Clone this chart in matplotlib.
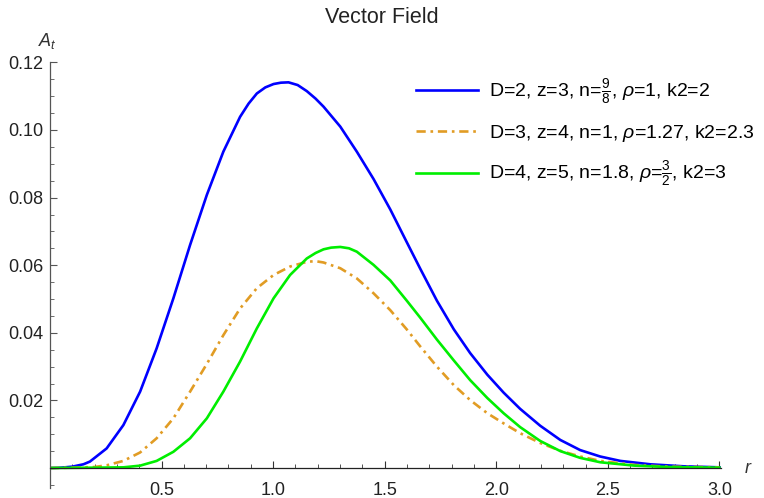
import numpy as np
import matplotlib
matplotlib.use("Agg")
import matplotlib.pyplot as plt
from matplotlib.ticker import MultipleLocator, FixedLocator

plt.rcParams['font.family'] = ['Liberation Sans', 'DejaVu Sans']
plt.rcParams['mathtext.fontset'] = 'custom'
plt.rcParams['mathtext.rm'] = 'Liberation Sans'
plt.rcParams['mathtext.it'] = 'Liberation Sans:italic'

# values
r_blue = [0, 0.05, 0.1, 0.15, 0.179, 0.254, 0.329, 0.404, 0.478, 0.553, 0.628, 0.703,
          0.777, 0.852, 0.89, 0.927, 0.965, 1.002, 1.035, 1.069, 1.11, 1.151, 1.19,
          1.226, 1.301, 1.375, 1.45, 1.525, 1.599, 1.659, 1.734, 1.81, 1.883, 1.96,
          2.033, 2.107, 2.197, 2.287, 2.376, 2.466, 2.556, 2.69, 2.84, 3.0]
a_blue = [0, 0.0001, 0.0004, 0.0011, 0.0019, 0.0058, 0.0127, 0.0226, 0.0354, 0.0502,
          0.066, 0.0808, 0.0936, 0.1039, 0.1078, 0.1108, 0.1126, 0.1136, 0.1140, 0.1141,
          0.1133, 0.1115, 0.1093, 0.1069, 0.101, 0.0936, 0.0855, 0.0765, 0.0668, 0.059,
          0.0495, 0.041, 0.034, 0.0276, 0.0223, 0.0175, 0.0125, 0.0083, 0.0053, 0.0034,
          0.0021, 0.0011, 0.0005, 0.0002]

r_orange = [0, 0.1, 0.2, 0.254, 0.329, 0.404, 0.478, 0.553, 0.628, 0.703, 0.777, 0.852,
            0.927, 1.002, 1.076, 1.151, 1.19, 1.226, 1.301, 1.375, 1.45, 1.525, 1.599,
            1.659, 1.734, 1.81, 1.883, 1.96, 2.033, 2.107, 2.197, 2.287, 2.376, 2.466,
            2.62, 2.77, 3.0]
a_orange = [0, 0.0001, 0.0003, 0.0008, 0.0021, 0.0046, 0.0088, 0.0147, 0.0226, 0.0308,
            0.0393, 0.0472, 0.0532, 0.0571, 0.0596, 0.061, 0.0612, 0.0608, 0.0591,
            0.0561, 0.0517, 0.0467, 0.041, 0.036, 0.030, 0.0245, 0.0201, 0.0162,
            0.0132, 0.0103, 0.0074, 0.0051, 0.0034, 0.0021, 0.0009, 0.0004, 0.0002]

r_green = [0, 0.2, 0.329, 0.404, 0.478, 0.553, 0.628, 0.703, 0.777, 0.852, 0.927, 1.002,
           1.076, 1.151, 1.19, 1.226, 1.26, 1.301, 1.34, 1.375, 1.45, 1.525, 1.599,
           1.659, 1.734, 1.81, 1.883, 1.96, 2.033, 2.107, 2.197, 2.287, 2.376, 2.466,
           2.62, 2.77, 3.0]
a_green = [0, 0.0001, 0.0002, 0.0007, 0.0021, 0.0048, 0.0088, 0.0147, 0.0226, 0.0315,
           0.0413, 0.0502, 0.0571, 0.062, 0.0636, 0.0647, 0.0652, 0.0654, 0.0650,
           0.0640, 0.0601, 0.0555, 0.0495, 0.0445, 0.038, 0.0318, 0.026, 0.0207,
           0.0162, 0.0121, 0.008, 0.005, 0.003, 0.0017, 0.0007, 0.0003, 0.0001]

labels = [r'D=2, z=3, n=$\frac{9}{8}$, $\rho$=1, k2=2',
          r'D=3, z=4, n=1, $\rho$=1.27, k2=2.3',
          r'D=4, z=5, n=1.8, $\rho$=$\frac{3}{2}$, k2=3']

fig = plt.figure(figsize=(7.64, 4.98), dpi=100)
ax = fig.add_axes([0.0654, 0.0195, 0.878, 0.8586])

ax.plot(r_blue, a_blue, color='#0000ff', lw=1.9, label=labels[0])
ax.plot(r_orange, a_orange, color='#e19c24', lw=1.9, ls=(0, (3.5, 1.8, 1.0, 1.8)),
        label=labels[1])
ax.plot(r_green, a_green, color='#00ee00', lw=1.9, label=labels[2])

ax.set_xlim(0, 3.006)
ax.set_ylim(-0.006, 0.1205)

axis_col = '#555555'
for s in ['top', 'right']:
    ax.spines[s].set_visible(False)
ax.spines['bottom'].set_position(('data', 0))
ax.spines['left'].set_position(('data', 0))
ax.spines['left'].set_bounds(-0.006, 0.12)
for s in ['bottom', 'left']:
    ax.spines[s].set_color(axis_col)
    ax.spines[s].set_linewidth(0.9)
ax.spines['bottom'].set_color('#222222')

ax.xaxis.set_major_locator(FixedLocator([0.5, 1.0, 1.5, 2.0, 2.5, 3.0]))
ax.xaxis.set_minor_locator(MultipleLocator(0.1))
ax.yaxis.set_major_locator(FixedLocator([0.02, 0.04, 0.06, 0.08, 0.10, 0.12]))
ax.yaxis.set_minor_locator(MultipleLocator(0.005))
ax.set_xticklabels(['0.5', '1.0', '1.5', '2.0', '2.5', '3.0'])
ax.set_yticklabels(['0.02', '0.04', '0.06', '0.08', '0.10', '0.12'])

ax.tick_params(axis='x', which='both', direction='in', colors='#333333',
               labelcolor='#222222', labelsize=13, pad=10)
ax.tick_params(axis='y', which='both', direction='in', colors=axis_col,
               labelcolor='#222222', labelsize=13, pad=5)
ax.tick_params(which='major', length=5, width=0.8)
ax.tick_params(which='minor', length=3, width=0.6)

ax.text(3.11, 0.0, r'$r$', fontsize=13, color='#333333', ha='left', va='center')
ax.text(-0.01, 0.1249, r'$A_t$', fontsize=13, color='#333333', ha='center', va='baseline')

fig.text(0.5, 0.965, 'Vector Field', fontsize=15.5, ha='center', va='center', color='#222222')

leg = ax.legend(loc='upper left', bbox_to_anchor=(0.545, 0.962), frameon=False,
                fontsize=14, handlelength=3.2, handletextpad=0.6, labelspacing=0.8,
                borderpad=0, borderaxespad=0)

fig.savefig('out.png', dpi=100)
